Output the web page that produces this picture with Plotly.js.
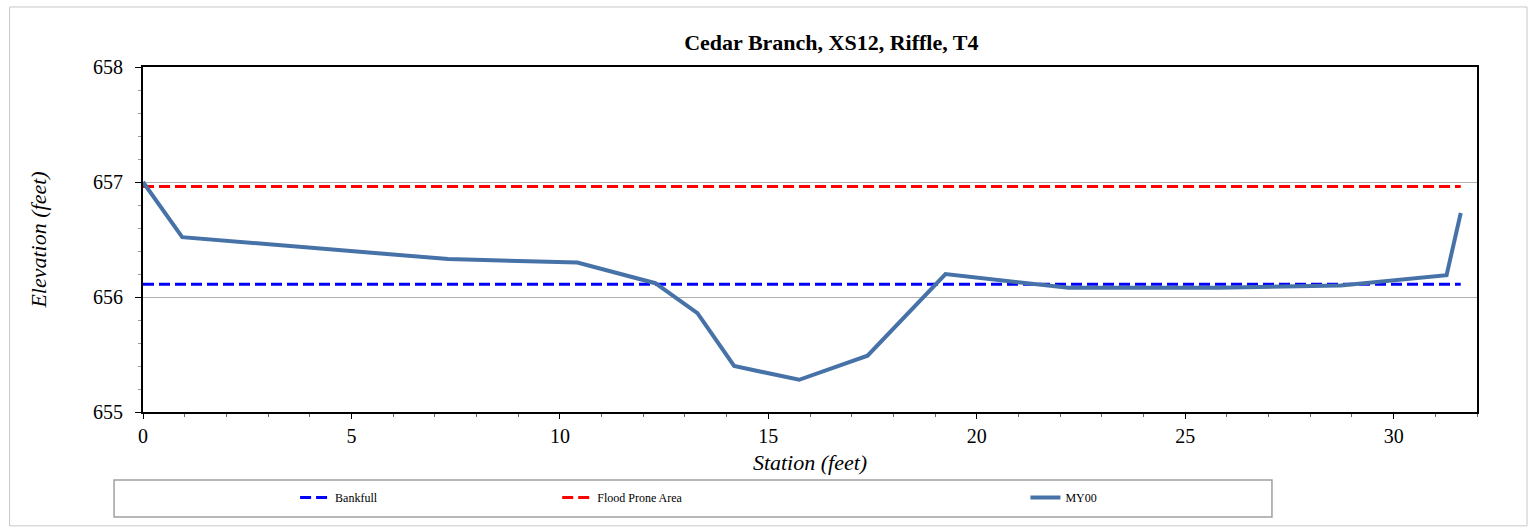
<!DOCTYPE html>
<html>
<head>
<meta charset="utf-8">
<script src="https://cdn.plot.ly/plotly-3.0.1.min.js"></script>
<style>html,body{margin:0;padding:0;background:#fff;}#chart{width:1533px;height:530px;}</style>
</head>
<body>
<div id="chart"></div>
<script>
const station = [0, 0.94, 7.32, 10.42, 12.29, 13.30, 14.18, 15.74, 17.38, 19.25, 22.20, 25.78, 28.73, 31.27, 31.61];
const elevation = [657.00, 656.52, 656.33, 656.30, 656.12, 655.86, 655.40, 655.28, 655.49, 656.20, 656.08, 656.08, 656.10, 656.19, 656.73];
const bankfullX = [0, 31.61];
const bankfullY = [656.11, 656.11];
const floodX = [0, 31.61];
const floodY = [656.96, 656.96];
const xTicks = [0, 5, 10, 15, 20, 25, 30];
const yTicks = [655, 656, 657, 658];

const serif = '"Liberation Serif", "Times New Roman", serif';
const traces = [
  {x: bankfullX, y: bankfullY, mode: 'lines', name: 'Bankfull', legend: 'legend',
   line: {color: '#0000FF', width: 3, dash: '11px,5px'}},
  {x: floodX, y: floodY, mode: 'lines', name: 'Flood Prone Area', legend: 'legend2',
   line: {color: '#FF0000', width: 3, dash: '11px,5px'}},
  {x: station, y: elevation, mode: 'lines', name: 'MY00', legend: 'legend3',
   line: {color: '#4672A8', width: 4}}
];
const legBase = {orientation: 'h', yanchor: 'middle', y: -0.248, xanchor: 'left',
  bgcolor: 'rgba(0,0,0,0)', font: {family: serif, size: 12, color: '#000'}};
const layout = {
  width: 1533, height: 530,
  margin: {l: 143, r: 56, t: 67, b: 118},
  paper_bgcolor: '#fff', plot_bgcolor: '#fff',
  font: {family: serif},
  title: {text: '<b>Cedar Branch, XS12, Riffle, T4</b>', font: {family: serif, size: 22, color: '#000'},
          x: 0.516, xanchor: 'center', y: 0.92, yanchor: 'middle', xref: 'paper'},
  xaxis: {range: [0, 32], tickvals: xTicks, ticks: 'outside', ticklen: 5, tickcolor: '#000',
          showgrid: false, zeroline: false, showline: true, linecolor: '#000', linewidth: 2, mirror: true,
          tickfont: {family: serif, size: 20, color: '#000'},
          minor: {dtick: 1, ticks: 'outside', ticklen: 3, tickcolor: '#666', showgrid: false},
          title: {text: '<i>Station (feet)</i>', font: {family: serif, size: 22, color: '#000'}, standoff: 9}},
  yaxis: {range: [655, 658], tickvals: yTicks, ticks: 'outside', ticklen: 6, tickcolor: '#000',
          ticklabelstandoff: 8,
          showgrid: true, gridcolor: '#b0b0b0', gridwidth: 1, zeroline: false,
          showline: true, linecolor: '#000', linewidth: 2, mirror: true,
          tickfont: {family: serif, size: 20, color: '#000'},
          minor: {dtick: 0.2, ticks: 'outside', ticklen: 3, tickcolor: '#999', showgrid: false},
          title: {text: '<i>Elevation (feet)</i>', font: {family: serif, size: 22, color: '#000'}, standoff: 40}},
  showlegend: true,
  legend: Object.assign({}, legBase, {x: 0.114}),
  legend2: Object.assign({}, legBase, {x: 0.3105}),
  legend3: Object.assign({}, legBase, {x: 0.6615}),
  shapes: [
    {type: 'rect', xref: 'paper', yref: 'paper', x0: -0.0217, x1: 0.8463, y0: -0.304, y1: -0.197,
     line: {color: '#a0a0a0', width: 1.5}, fillcolor: 'rgba(0,0,0,0)'},
    {type: 'rect', xref: 'paper', yref: 'paper', x0: -0.1, x1: 1.0375, y0: -0.33, y1: 1.174,
     line: {color: '#c8c8c8', width: 1}, fillcolor: 'rgba(0,0,0,0)', layer: 'below'}
  ]
};
Plotly.newPlot('chart', traces, layout, {displayModeBar: false, staticPlot: true});
</script>
</body>
</html>
